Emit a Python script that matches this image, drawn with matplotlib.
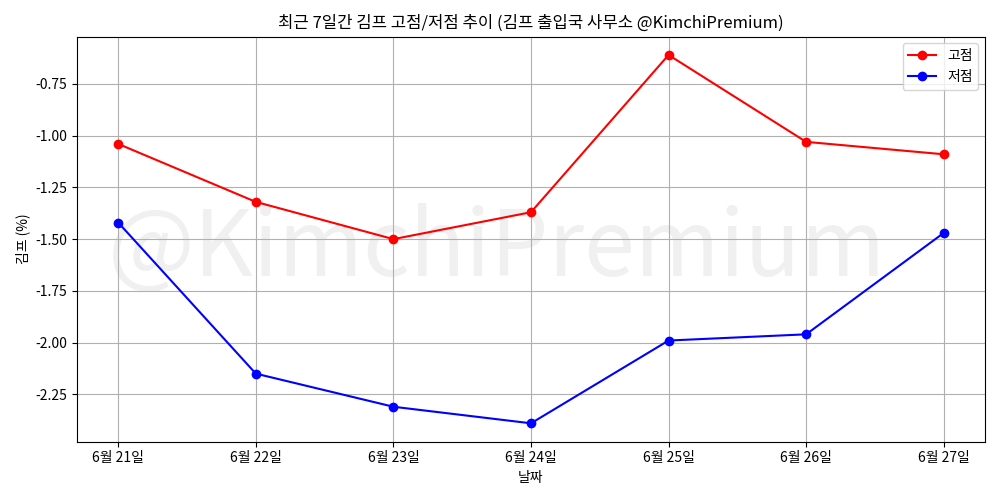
import matplotlib.pyplot as plt

plt.rcParams['font.family'] = ['Noto Sans CJK KR', 'DejaVu Sans']
plt.rcParams['axes.unicode_minus'] = False

dates = ['6월 21일', '6월 22일', '6월 23일', '6월 24일', '6월 25일', '6월 26일', '6월 27일']
high = [-1.04, -1.32, -1.50, -1.37, -0.61, -1.03, -1.09]
low = [-1.42, -2.15, -2.31, -2.39, -1.99, -1.96, -1.47]

fig, ax = plt.subplots(figsize=(10, 5), dpi=100)

# 워터마크 (그리드 뒤에)
wm = ax.text(0.497, 0.5, '@KimchiPremium', transform=fig.transFigure, fontsize=66,
             fontweight='light', color='#f0f0f0', ha='center', va='center', zorder=0)
wm.set_in_layout(False)

ax.plot(dates, high, marker='o', color='red', label='고점')
ax.plot(dates, low, marker='o', color='blue', label='저점')
ax.set_title('최근 7일간 김프 고점/저점 추이 (김프 출입국 사무소 @KimchiPremium)')
ax.set_xlabel('날짜')
ax.set_ylabel('김프 (%)')
ax.grid(True)
ax.legend(loc='upper right')

fig.tight_layout()
fig.savefig('out.png')
